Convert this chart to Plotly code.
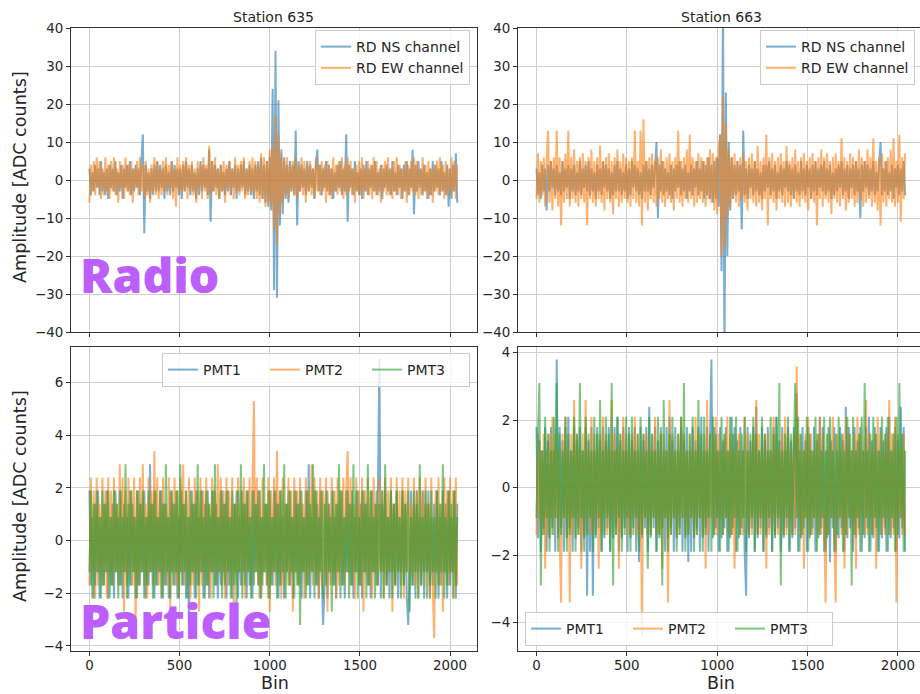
import plotly.graph_objects as go

# Trace samples every 8th bin of the 2048-bin traces
BINS = list(range(0, 2048, 8))

# ---- Radio traces [ADC counts] ----
RD635_NS = [
    3, -4, 2, -3, 4, -2, 3, -4, 5, -3, 2, -4, 3, -5, 4, -2,
    3, -3, 5, -4, 2, -3, 4, -5, 3, -2, 4, -3, 5, -4, 3, -3,
    4, -2, 3, -4, 5, 12, -14, 4, -3, 2, -5, 3, -4, 4, -3, 5,
    -3, 4, -2, 3, -5, 4, -3, 2, -4, 5, -3, 4, -2, 3, -4, 3,
    -5, 4, -3, 5, -2, 3, -4, 4, -3, 2, -5, 3, -4, 5, -3, 4,
    -2, 3, -4, 8, -11, 5, -3, 4, -2, 3, -5, 4, -3, 2, -4, 3,
    -3, 5, -4, 3, -2, 4, -5, 3, -3, 4, -2, 5, -4, 3, -3, 4,
    -4, 3, -5, 4, -3, 5, -4, 6, -5, 4, -6, 5, -7, 6, -8, 24,
    -29, 34, -31, 21, -12, 8, -9, 6, -5, 4, -6, 5, -3, 4, -4, 13,
    -12, 5, -3, 4, -2, 3, -4, 5, -3, 4, -2, 3, -5, 4, 8, -3,
    4, -4, 3, -2, 5, -3, 4, -4, 3, -5, 2, -3, 4, -2, 5, -4,
    3, -3, 12, -11, 4, -2, 3, -4, 5, -3, 2, -4, 3, -5, 4, -3,
    5, -4, 3, -2, 4, -3, 5, -4, 2, -3, 4, -5, 3, -2, 4, -3,
    3, -4, 5, -3, 2, -4, 4, -2, 3, -5, 4, -3, 5, -4, 3, -2,
    8, -9, 4, -3, 5, -2, 3, -4, 4, -3, 2, -5, 3, -4, 5, -3,
    4, -2, 3, -4, 5, -3, 2, -4, 4, -7, 3, -5, 4, -3, 7, -6,
]
RD635_EW = [
    -6, 4, -3, 5, -4, 6, -2, 5, -5, 3, -4, 6, -3, 4, -5, 5,
    -3, 6, -4, 3, -6, 5, -2, 4, -5, 6, -3, 4, -4, 5, -6, 3,
    -2, 5, -4, 6, -3, 4, -5, 5, -4, 3, -6, 4, -3, 6, -4, 5,
    -5, 3, -4, 5, -3, 6, -4, 4, -2, 5, -5, 3, -7, 6, -3, 4,
    -4, 5, -3, 6, -5, 4, -3, 5, -4, 3, -6, 5, -2, 4, -5, 6,
    -3, 4, -5, 9, -4, 5, -3, 6, -4, 3, -5, 4, -3, 5, -6, 4,
    -2, 5, -4, 3, -5, 6, -3, 4, -4, 5, -3, 6, -5, 3, -4, 5,
    -3, 6, -4, 5, -5, 4, -6, 7, -5, 6, -7, 5, -6, 8, -7, 9,
    -13, 17, -17, 12, -9, 7, -6, 5, -4, 6, -5, 4, -3, 5, -4, 6,
    -5, 4, -3, 6, -4, 5, -6, 4, -3, 5, -4, 3, -5, 6, -3, 4,
    -4, 5, -3, 4, -6, 5, -4, 3, -5, 6, -3, 4, -4, 5, -3, 6,
    -5, 4, -4, 6, -3, 5, -4, 3, -6, 4, -3, 5, -4, 6, -5, 3,
    -3, 5, -4, 4, -5, 6, -3, 5, -4, 3, -6, 4, -3, 5, -4, 6,
    -4, 3, -5, 5, -3, 6, -4, 4, -5, 3, -3, 5, -6, 4, -4, 5,
    -3, 6, -4, 5, -5, 3, -4, 6, -3, 4, -5, 5, -4, 3, -6, 4,
    -3, 5, -4, 6, -3, 4, -5, 5, -4, 3, -4, 6, -3, 5, -5, 4,
]
RD663_NS = [
    3, -4, 2, -5, 4, -3, 3, -8, 4, -3, 5, -2, 3, -4, 4, -3,
    2, -4, 5, -3, 3, -2, 4, -5, 3, -3, 4, -4, 2, -3, 5, -4,
    3, -2, 4, -3, 5, -4, 3, -3, 2, -5, 4, -3, 3, -4, 5, -2,
    4, -3, 3, -5, 2, -4, 4, -3, 5, -3, 3, -4, 2, -3, 4, -5,
    3, -4, 5, -2, 4, -3, 3, -4, 2, -5, 4, -3, 5, -3, 3, -4,
    4, -2, 3, 10, -10, 4, -3, 5, -4, 3, -3, 2, -4, 4, -5, 3,
    -3, 4, -2, 5, -4, 3, -3, 4, -5, 2, -3, 4, -4, 3, -2, 5,
    -4, 3, -3, 5, -5, 4, -4, 6, -5, 4, -6, 5, -5, 6, -7, 12,
    -24, 48, -47, 23, -20, 10, -8, 6, -5, 4, -4, 5, -3, 4, -13, 13,
    -4, 3, -5, 4, -2, 3, -4, 5, -3, 3, -4, 2, -5, 4, -3, 4,
    -2, 5, -4, 3, -3, 4, -5, 2, -3, 4, -4, 3, -2, 5, -3, 4,
    -4, 3, -5, 4, -3, 2, -4, 5, -3, 3, -4, 4, -2, 3, -5, 4,
    -3, 5, -4, 3, -2, 4, -3, 5, -4, 3, -3, 4, -5, 2, -4, 3,
    -3, 4, -2, 5, -4, 3, -3, 4, -5, 3, -2, 4, -4, 5, -3, 3,
    -10, 4, -3, 5, -2, 4, -4, 3, -3, 5, -4, 2, -3, 4, 10, -4,
    3, -3, 5, -4, 2, -3, 4, -5, 3, -2, 4, -4, 3, -3, 5, -4,
]
RD663_EW = [
    -5, 7, -6, 5, -4, 6, -7, 5, 13, -6, 5, -8, 6, -5, 13, -7,
    6, -12, 5, -6, 7, -5, 13, -7, 6, -5, 8, -6, 5, -7, 6, -5,
    7, -6, 5, -12, 6, -5, 8, -6, 5, -7, 6, -5, 9, -6, 5, -8,
    6, -5, 7, -6, 5, -9, 6, -5, 8, -7, 5, -6, 7, -5, 6, -6,
    5, -7, 6, -5, 13, -6, 5, -7, 13, -12, 16, -6, 5, -8, 6, -5,
    7, -6, 5, -7, 6, -5, 8, -6, 5, -7, 6, -5, 7, -6, 5, -8,
    6, -5, 13, -6, 5, -7, 6, -5, 8, -6, 12, -5, 6, -7, 5, -6,
    7, -5, 6, -6, 5, -7, 6, -5, 8, -6, 7, -8, 6, -9, 8, 12,
    -20, 22, -18, 15, -10, 8, -7, 6, -5, 7, -6, 5, -7, 6, -5, 7,
    -6, 5, -8, 6, -5, 7, -6, 5, -7, 9, -6, 5, -8, 6, -5, 12,
    -12, 6, -5, 7, -6, 5, -8, 6, -5, 7, -6, 5, -7, 9, -6, 5,
    -7, 6, -5, 8, -6, 5, -7, 6, -5, 7, -6, 5, -8, 6, -5, 7,
    -6, 5, -12, 6, -5, 8, -7, 6, -5, 7, -6, 5, -9, 6, -5, 7,
    -6, 5, -7, 11, -5, 6, -8, 5, -6, 7, -5, 6, -7, 5, -6, 8,
    -5, 6, -7, 5, -6, 8, -5, 6, -7, 11, -6, 5, -8, 6, -12, 7,
    -6, 5, -7, 6, -5, 8, -6, 11, -7, 5, -6, 12, -11, 6, -5, 7,
]

# ---- Particle (PMT) traces ----
PMT635_1 = [
    1.9, -1.7, 0.9, -2.2, 1.4, -1.2, 1.9, -2.2, 0.9, -1.7, 1.4, -1.2, 1.9, -2.2, 0.9, -1.7,
    1.4, -2.2, 1.9, -1.2, 0.9, -1.7, 1.9, -2.2, 1.4, -1.2, 0.9, -2.2, 1.9, -1.7, 1.4, -1.2,
    0.9, -2.2, 1.9, -1.7, 1.4, -1.2, 1.9, -2.2, 0.9, -1.7, 2.9, -1.2, 1.4, -2.2, 1.9, -1.7,
    0.9, -1.2, 1.9, -2.2, 1.4, -1.7, 0.9, -2.2, 1.9, -1.2, 1.4, -1.7, 1.9, -2.2, 0.9, -1.2,
    1.9, -1.7, 1.4, -2.2, 0.9, -3.2, 1.9, -1.2, 1.4, -2.2, 1.9, -1.7, 0.9, -1.2, 1.9, -2.2,
    1.4, -1.7, 1.9, -2.2, 0.9, -1.2, 1.9, -1.7, 1.4, -2.2, 0.9, -1.7, 1.9, -1.2, 1.4, -2.2,
    1.9, -1.7, 0.9, -2.2, 1.4, -1.2, 1.9, -2.2, 0.9, -1.7, 1.9, -1.2, 1.4, -2.2, 1.9, -1.7,
    0.9, -2.2, 1.9, -1.2, 1.4, -1.7, 1.9, -2.2, 0.9, -1.2, 1.4, -1.7, 1.9, -2.2, 0.9, -1.7,
    1.9, -1.2, 1.4, -2.2, 1.9, -1.7, 0.9, -2.2, 1.4, -1.2, 1.9, -1.7, 0.9, -2.2, 1.9, -1.2,
    1.4, -1.7, 1.9, -2.2, 0.9, -1.2, 1.9, -1.7, 2.9, -2.2, 0.9, -1.2, 1.9, -1.7, 1.4, -2.2,
    1.9, -1.2, -3.2, -1.7, 1.9, -2.2, 1.4, -1.2, 1.9, -1.7, 0.9, -2.2, 1.4, -1.2, 1.9, -1.7,
    0.9, -2.2, 1.9, -1.2, 1.4, -1.7, 1.9, -2.2, 0.9, -1.2, 1.9, -1.7, 1.4, -2.2, 1.9, -1.2,
    1.4, -1.7, 0.9, -2.2, 1.9, -1.2, 1.4, -1.7, 1.9, 6.9, -2.2, 1.4, -1.2, 1.9, -1.7, 0.9,
    -2.2, 1.9, -1.2, 1.4, -1.7, 1.9, -2.2, 0.9, -1.2, 1.9, -1.7, 1.4, -2.2, -3.2, -1.2, 1.9,
    -1.7, 1.4, -2.2, 1.9, -1.2, 0.9, -1.7, 1.9, -2.2, 1.4, -1.2, 1.9, -2.2, 0.9, -1.7, 1.4,
    -1.2, 1.9, -2.2, 0.9, -1.7, 1.9, -1.2, 1.4, -2.2, 1.9, -1.7, 0.9, -1.2, 1.9, -2.2, 1.4,
]
PMT635_2 = [
    -1.7, 2.4, -1.2, 1.9, -2.2, 2.4, -1.7, 1.4, -1.2, 2.4, -1.7, 1.9, -2.2, 2.4, -1.2, 1.9,
    -1.7, 2.4, -1.2, 1.4, -1.7, 2.9, -1.2, 2.4, -2.7, 1.9, -1.7, 2.4, -1.2, 1.9, -1.7, 2.4,
    -3.2, 1.9, -1.7, 2.4, -1.2, 2.9, -1.7, 1.4, -2.2, 2.4, -1.2, 1.9, -1.7, 3.4, -1.2, 2.4,
    -1.7, 1.9, -2.2, 2.4, -1.2, 1.4, -1.7, 2.4, -2.7, 1.9, -1.2, 2.4, -1.7, 1.9, -2.2, 2.4,
    -1.2, 2.9, -1.7, 1.9, -1.2, 2.4, -2.2, 1.4, -1.7, 2.4, -1.2, 1.9, -2.7, 2.4, -1.7, 1.9,
    -1.2, 2.4, -1.7, 1.4, -2.2, 2.4, -1.2, 1.9, -1.7, 2.9, -1.2, 2.4, -1.7, 1.9, -2.2, 2.4,
    -1.7, 1.9, -1.2, 2.4, -2.7, 1.4, -1.7, 2.4, -1.2, 1.9, -1.7, 2.4, -2.2, 1.9, -1.2, 2.4,
    -1.7, 1.9, 5.3, -1.2, 2.4, -1.7, 1.9, -2.2, 2.4, -1.2, 1.4, -1.7, 2.4, -2.7, 1.9, -1.2,
    2.4, -1.7, 3.4, -1.2, 1.9, -2.2, 2.4, -1.7, 1.4, -1.2, 2.4, -1.7, 1.9, -2.7, 2.4, -1.2,
    1.9, -1.7, 2.4, -1.2, 1.4, -2.2, 2.4, -1.7, 1.9, -1.2, 2.9, -1.7, 2.4, -1.2, 1.9, -2.2,
    2.4, -1.7, 1.9, -1.2, 2.4, -2.7, 1.4, -1.7, 2.4, -1.2, 1.9, -2.2, 2.4, -1.7, 1.9, -1.2,
    2.4, -1.7, 1.9, 3.4, -1.2, 2.4, -1.7, 1.4, -2.2, 2.4, -1.2, 1.9, -1.7, 2.4, -2.7, 1.9,
    -1.2, 2.4, -1.7, 1.9, -2.2, 2.4, -1.2, 1.4, -1.7, 2.4, -1.2, 1.9, -2.2, 2.4, -1.7, 1.9,
    -1.2, 2.4, -2.7, 1.4, -1.7, 2.4, -1.2, 1.9, -1.7, 2.4, -2.2, 1.9, -1.2, 2.4, -1.7, 1.4,
    -1.2, 2.4, -1.7, 1.9, -2.2, 2.4, -1.2, 1.9, -1.7, 2.4, -1.2, 1.4, -2.2, 2.4, -1.7, -3.7,
    1.9, -1.2, 2.4, -1.7, 1.4, -2.7, 2.4, -1.2, 1.9, -1.7, 2.4, -1.2, 1.9, -2.2, 2.4, -1.7,
]
PMT635_3 = [
    -1.2, 1.9, -2.2, 1.4, -1.7, 1.9, -1.2, 0.9, -2.2, 1.9, -1.7, 1.4, -1.2, 1.9, -2.2, 0.9,
    -1.7, 1.9, -1.2, 1.4, -2.2, 1.9, -1.7, 0.9, -1.2, 2.9, -2.2, 1.4, -1.7, 1.9, -1.2, 0.9,
    -2.2, 1.9, -1.7, 1.4, -1.2, 1.9, -2.2, 0.9, -1.7, 1.9, -1.2, 1.4, -2.2, 1.9, -1.7, 0.9,
    -1.2, 1.9, -2.2, 1.4, -1.7, 2.9, -1.2, 0.9, -2.2, 1.9, -1.7, 1.4, -1.2, 1.9, -2.2, 2.9,
    -1.7, 1.4, -1.2, 1.9, -2.2, 0.9, -1.7, 1.9, -1.2, 1.4, -2.2, 2.9, -1.7, 1.9, -1.2, 0.9,
    -2.2, 1.9, -1.7, 1.4, -1.2, 1.9, -2.2, 2.9, -1.7, 0.9, -1.2, 1.9, -2.2, 1.4, -1.7, 1.9,
    -1.2, 0.9, -2.2, 1.9, -1.7, 1.4, -2.7, 1.9, -1.2, 2.9, -2.2, 1.4, -1.7, 1.9, -1.2, 0.9,
    -2.2, 1.9, -1.7, 1.4, -1.2, 1.9, -2.2, 0.9, -1.7, 2.9, -1.2, 1.4, -2.2, 1.9, -1.7, 0.9,
    -1.2, 1.9, -2.2, 1.4, -1.7, 1.9, -1.2, 2.9, -2.2, 1.4, -1.7, 1.9, -1.2, 0.9, -2.2, 1.9,
    -1.7, 1.4, -3.2, 1.9, -1.2, 0.9, -2.2, 1.9, -1.7, 1.4, -1.2, 2.9, -2.2, 1.9, -1.7, 0.9,
    -1.2, 1.9, -2.2, 1.4, -1.7, 1.9, -1.2, 0.9, -2.7, 1.9, -1.7, 1.4, -1.2, 2.9, -2.2, 1.9,
    -1.7, 0.9, -1.2, 1.9, -2.2, 1.4, -1.7, 2.9, -1.2, 1.9, -2.2, 0.9, -1.7, 1.9, -1.2, 1.4,
    -2.2, 2.9, -1.7, 1.9, -1.2, 0.9, -2.2, 1.9, -1.7, 1.4, -1.2, 1.9, -2.2, 2.9, -1.7, 0.9,
    -1.2, 1.9, -2.2, 1.4, -1.7, 1.9, -1.2, 0.9, -2.2, 1.9, -1.7, 1.4, -1.2, 1.9, -2.7, 0.9,
    -1.7, 1.9, -1.2, 1.4, -2.2, 2.9, -1.7, 0.9, -1.2, 1.9, -2.2, 1.4, -1.7, 1.9, -1.2, 0.9,
    -2.2, 1.9, -1.7, 1.4, -1.2, 2.9, -2.2, 0.9, -1.7, 1.9, -1.2, 1.4, -2.2, 1.9, -1.7, 0.9,
]
PMT663_1 = [
    1.8, -1.5, 1.4, -1.9, 1.1, -1.2, 1.8, -1.9, 1.4, -1.5, 1.8, -1.2, 1.1, -1.9, 3.8, -1.5,
    1.8, -1.2, 1.4, -1.9, 1.8, -1.5, 2.1, -1.2, 1.1, -1.9, 1.8, -1.5, 1.4, -1.2, 1.8, -1.9,
    1.1, -1.5, 1.8, -3.2, 1.4, -1.9, 1.8, -3.2, 1.1, -1.5, 1.8, -1.2, 1.4, -1.9, 1.8, -1.5,
    1.4, -1.2, 1.8, -1.9, 1.1, -1.5, 1.8, -1.2, 2.1, -1.9, 1.4, -1.5, 1.8, -1.2, 1.1, -1.9,
    1.8, -1.5, 1.4, -1.2, 1.8, -1.9, 1.1, -2.2, 1.8, -1.5, 1.4, -1.2, 1.8, -1.9, 2.4, -1.5,
    1.1, -1.2, 1.8, -1.9, 1.4, -1.5, 1.8, -1.2, 1.1, -1.9, 1.8, -1.5, 2.1, -1.2, 1.4, -1.9,
    1.8, -1.5, 1.1, -1.2, 1.8, -1.9, 1.4, -1.5, 1.8, -2.2, 1.1, -1.9, 1.8, -1.5, 1.4, -1.2,
    1.8, -1.9, 2.1, -1.5, 1.1, -1.2, 1.8, -1.9, 1.4, 3.8, -1.5, 1.8, -1.2, 1.1, -1.9, 1.8,
    -1.5, 1.4, -1.2, 1.8, -1.9, 1.1, -1.5, 2.1, -1.2, 1.8, -1.9, 1.4, -1.5, 1.8, -1.2, 1.1,
    -1.9, -3.2, 1.8, -1.5, 1.4, -1.2, 1.8, -1.9, 2.4, -1.5, 1.1, -1.2, 1.8, -1.9, 1.4, -1.5,
    1.8, -1.2, 1.1, -1.9, 1.8, -1.5, 2.1, -1.2, 1.4, -1.9, 1.8, -1.5, 1.1, -1.2, 1.8, -1.9,
    1.4, -1.5, 1.8, -1.2, 2.8, -1.9, 1.1, -1.5, 1.8, -1.2, 1.4, -1.9, 1.8, -1.5, 1.1, -1.2,
    1.8, -1.9, 1.4, -1.5, 2.1, -1.2, 1.8, -1.9, 1.1, -1.5, 1.8, -2.2, 1.4, -1.2, 1.8, -1.9,
    1.1, -1.5, 1.8, -1.2, 1.4, -1.9, 2.4, -1.5, 1.8, -1.2, 1.1, -1.9, 1.8, -1.5, 1.4, -1.2,
    1.8, -1.9, 1.1, -1.5, 1.8, -1.2, 2.1, -1.9, 1.4, -1.5, 1.8, -1.2, 1.1, -1.9, 1.8, -1.5,
    1.4, -1.2, 1.8, -1.9, 2.1, -1.5, 1.1, -1.2, 1.8, -1.9, 1.4, -1.5, 2.4, -1.2, 1.8, -1.9,
]
PMT663_2 = [
    -1.4, 1.6, -0.9, 1.1, -1.4, 1.6, -2.4, 1.1, -1.4, 1.6, -0.9, 2.1, -1.4, 1.6, -0.9, 1.1,
    -1.4, -3.4, 1.6, -0.9, 2.1, -1.4, 1.1, -3.4, 1.6, -1.4, 2.6, -0.9, 1.6, -1.4, 1.1, -2.4,
    1.6, -1.4, 2.6, -0.9, 1.1, -1.4, 2.1, -1.4, 1.6, -0.9, 1.1, -2.4, 1.6, -1.4, 2.1, -0.9,
    1.6, -1.4, 1.1, -1.4, 2.6, -0.9, 1.6, -1.4, 1.1, -2.4, 1.6, -1.4, 2.1, -0.9, 1.6, -1.4,
    1.1, -1.4, 1.6, -0.9, 2.1, -1.4, 1.6, -1.4, 1.1, -4.4, 1.6, -0.9, 1.6, -1.4, 1.1, -1.4,
    1.6, -0.9, 2.1, -1.4, 1.1, -1.4, 1.6, -2.4, 1.6, -0.9, 1.1, -3.4, 2.6, -1.4, 1.6, -0.9,
    1.1, -1.4, 1.6, -1.4, 2.1, -0.9, 1.6, -1.4, 1.1, -1.4, 1.6, -0.9, 1.1, -1.4, 2.1, -1.4,
    1.6, -0.9, 1.1, -1.4, 1.6, -2.4, 2.6, -1.4, 1.1, -0.9, 1.6, -1.4, 2.1, -1.4, 1.6, -0.9,
    1.1, -1.4, 1.6, -0.9, 2.1, -1.4, 1.6, -1.4, 1.1, -2.4, 1.6, -0.9, 1.6, -1.4, 1.1, -1.4,
    2.1, -0.9, 1.6, -1.4, 1.1, -1.4, 1.6, -0.9, 2.6, -1.4, 1.6, -1.4, 1.1, -0.9, 1.6, -2.4,
    1.6, -1.4, 1.1, -0.9, 2.1, -1.4, 1.6, -1.4, 1.1, -0.9, 1.6, -1.4, 2.1, -1.4, 1.6, -0.9,
    1.1, -1.4, 1.6, -1.4, 3.6, -0.9, 1.6, -1.4, 1.1, -2.4, 1.6, -0.9, 2.1, -1.4, 1.6, -1.4,
    1.1, -0.9, 1.6, -1.4, 2.1, -1.4, 1.6, -0.9, -3.4, 1.1, -1.4, 1.6, -0.9, 2.1, -1.4, -3.4,
    1.6, -0.9, 1.1, -1.4, 1.6, -2.4, 2.1, -1.4, 1.6, -0.9, 1.1, -1.4, 1.6, -2.4, 2.1, -1.4,
    1.6, -0.9, 1.1, -1.4, 2.6, -1.4, 1.6, -0.9, 1.1, -1.4, 1.6, -2.4, 2.1, -0.9, 1.6, -1.4,
    1.1, -1.4, 1.6, -0.9, 2.6, -1.4, 1.6, -1.4, 2.1, -3.4, 1.6, -0.9, 1.1, -1.4, 1.6, -1.4,
]
PMT663_3 = [
    -0.9, 1.6, 3.1, -2.9, 1.1, -1.4, 2.1, -0.9, 1.6, -1.9, 1.1, -1.4, 2.1, -0.9, 3.1, -1.9,
    1.6, -1.4, 1.1, -0.9, 2.1, -1.9, 1.6, -1.4, 1.1, -0.9, 2.1, -1.9, 1.6, -1.4, 3.1, -0.9,
    1.1, -1.9, 2.1, -1.4, 1.6, -0.9, 1.1, -1.9, 2.1, -1.4, 1.6, -0.9, 2.6, -1.9, 1.1, -1.4,
    2.1, -0.9, 1.6, -1.9, 3.1, -2.9, 1.1, -1.4, 2.1, -0.9, 1.6, -1.9, 1.1, -1.4, 2.1, -0.9,
    1.6, -1.9, 2.1, -1.4, 1.1, -0.9, 1.6, -1.9, 2.1, -1.4, 1.6, -0.9, 1.1, -2.4, 2.1, -1.4,
    1.6, -0.9, 1.1, -1.9, 2.1, -1.4, 1.6, -2.9, 2.6, -0.9, 1.1, -1.9, 1.6, -1.4, 2.1, -0.9,
    1.1, -1.9, 1.6, -1.4, 2.1, -0.9, 3.1, -1.9, 1.1, -1.4, 1.6, -0.9, 2.1, -1.9, 1.1, -1.4,
    2.6, -0.9, 1.6, -1.9, 2.1, -1.4, 1.1, -0.9, 1.6, -1.9, 2.1, -1.4, 1.6, -0.9, 1.1, -1.9,
    2.1, -1.4, 1.6, -0.9, 1.1, -1.9, 2.1, -1.4, 1.6, -0.9, 2.1, -1.9, 1.1, -1.4, 1.6, -0.9,
    2.1, -1.9, 1.1, -1.4, 1.6, -0.9, 2.1, -1.9, 1.6, -1.4, 1.1, -0.9, 2.1, -1.9, 1.6, -1.4,
    1.1, -0.9, 2.1, -1.9, 1.6, -1.4, 2.1, -0.9, 3.1, -2.9, 1.1, -1.4, 1.6, -0.9, 2.1, -1.9,
    1.6, -1.4, 1.1, 3.1, -0.9, 2.1, -1.9, 1.6, -1.4, 1.1, -0.9, 2.1, -1.9, 1.6, -1.4, 1.1,
    -0.9, 2.1, -1.9, 1.6, -1.4, 1.1, -0.9, 2.1, -1.9, 1.6, -1.4, 2.1, -0.9, 1.1, -1.9, 1.6,
    -1.4, 2.1, -0.9, 1.6, -1.9, 1.1, -1.4, 2.1, -0.9, 1.6, -2.9, 2.1, -1.4, 1.1, -0.9, 1.6,
    -1.9, 2.1, -1.4, 3.1, -0.9, 1.1, -1.9, 1.6, -1.4, 2.1, -0.9, 1.6, -1.9, 1.1, -1.4, 2.1,
    -0.9, 1.6, -1.9, 2.1, -1.4, 1.1, -0.9, 1.6, -1.9, 2.1, -1.4, 3.1, -0.9, 1.6, -1.9, 1.1,
]

STATIONS = ["Station 635", "Station 663"]
X_TICKS = [0, 500, 1000, 1500, 2000]

BLUE = "rgba(31,119,180,0.6)"
ORANGE = "rgba(255,127,14,0.6)"
GREEN = "rgba(44,160,44,0.6)"
FONT = "DejaVu Sans"
INK = "#262626"
PURPLE = "#BD5EFF"

W, H = 920, 694


def px_x(p):
    return p / W


def px_y(p):
    return 1 - p / H


fig = go.Figure()


def add_trace(y, name, color, axis, legend):
    fig.add_trace(go.Scatter(
        x=BINS, y=y, name=name, mode="lines",
        line=dict(color=color, width=2, simplify=False),
        xaxis="x" + axis, yaxis="y" + axis, legend=legend,
        hoverinfo="skip",
    ))


add_trace(RD635_NS, "RD NS channel", BLUE, "", "legend")
add_trace(RD635_EW, "RD EW channel", ORANGE, "", "legend")
add_trace(RD663_NS, "RD NS channel", BLUE, "2", "legend2")
add_trace(RD663_EW, "RD EW channel", ORANGE, "2", "legend2")
add_trace(PMT635_1, "PMT1", BLUE, "3", "legend3")
add_trace(PMT635_2, "PMT2", ORANGE, "3", "legend3")
add_trace(PMT635_3, "PMT3", GREEN, "3", "legend3")
add_trace(PMT663_1, "PMT1", BLUE, "4", "legend4")
add_trace(PMT663_2, "PMT2", ORANGE, "4", "legend4")
add_trace(PMT663_3, "PMT3", GREEN, "4", "legend4")

LEFT = [px_x(71), px_x(477)]
RIGHT = [px_x(518), 1.0]
TOP = [px_y(332), px_y(28)]
BOTTOM = [px_y(651), px_y(347)]

tick_font = dict(family=FONT, size=13.4, color=INK)
common_x = dict(
    tickvals=X_TICKS, showgrid=True, gridcolor="#cfcfcf", gridwidth=1,
    zeroline=False, showline=True, linecolor="#333333", linewidth=1,
    ticks="outside", ticklen=4, tickcolor="#333333", tickfont=tick_font,
    ticklabelstandoff=-2, automargin=False,
)
common_y = dict(
    showgrid=True, gridcolor="#cfcfcf", gridwidth=1, zeroline=False,
    showline=True, linecolor="#333333", linewidth=1,
    ticks="outside", ticklen=4, tickcolor="#333333", tickfont=tick_font,
    automargin=False,
)

X_LEFT_RANGE = [-102.35, 2149.35]
X_RIGHT_RANGE = [-102.35, 2122.3]

fig.update_layout(
    template="none",
    width=W, height=H, autosize=False,
    margin=dict(l=0, r=0, t=0, b=0, pad=0),
    paper_bgcolor="white", plot_bgcolor="white",
    font=dict(family=FONT, color=INK),
    xaxis=dict(domain=LEFT, anchor="y", range=X_LEFT_RANGE, mirror=True,
               showticklabels=False, **common_x),
    yaxis=dict(domain=TOP, anchor="x", range=[-40, 40], dtick=10, mirror=True, **common_y),
    xaxis2=dict(domain=RIGHT, anchor="y2", range=X_RIGHT_RANGE, mirror=True,
                showticklabels=False, **common_x),
    yaxis2=dict(domain=TOP, anchor="x2", range=[-40, 40], dtick=10, **common_y),
    xaxis3=dict(domain=LEFT, anchor="y3", range=X_LEFT_RANGE, mirror=True, **common_x),
    yaxis3=dict(domain=BOTTOM, anchor="x3", range=[-4.19, 7.35], dtick=2, mirror=True, **common_y),
    xaxis4=dict(domain=RIGHT, anchor="y4", range=X_RIGHT_RANGE, mirror=True, **common_x),
    yaxis4=dict(domain=BOTTOM, anchor="x4", range=[-4.84, 4.17], dtick=2, **common_y),
)

legend_style = dict(
    bgcolor="rgba(255,255,255,0.8)", bordercolor="#cccccc", borderwidth=1,
    font=dict(family=FONT, size=14, color=INK),
)
fig.update_layout(
    legend=dict(x=px_x(470), y=px_y(30), xanchor="right", yanchor="top", **legend_style),
    legend2=dict(x=px_x(915), y=px_y(30), xanchor="right", yanchor="top", **legend_style),
    legend3=dict(x=px_x(470), y=px_y(353), xanchor="right", yanchor="top",
                 orientation="h", entrywidth=57, **legend_style),
    legend4=dict(x=px_x(525), y=px_y(646), xanchor="left", yanchor="bottom",
                 orientation="h", entrywidth=57, **legend_style),
)

annotations = []
for name, cx in zip(STATIONS, [273.5, 721]):
    annotations.append(dict(
        text=name, x=px_x(cx), y=px_y(28),
        xref="paper", yref="paper", xanchor="center", yanchor="bottom",
        showarrow=False, font=dict(family=FONT, size=14, color=INK), yshift=1,
    ))
for cx in [274.5, 720.5]:
    annotations.append(dict(
        text="Bin", x=px_x(cx), y=0, xref="paper", yref="paper",
        xanchor="center", yanchor="bottom", showarrow=False, borderpad=0,
        font=dict(family=FONT, size=17.5, color=INK),
    ))
for cy in [177, 496]:
    annotations.append(dict(
        text="Amplitude [ADC counts]", x=px_x(20), y=px_y(cy), xref="paper", yref="paper",
        xanchor="center", yanchor="middle", textangle=-90, showarrow=False,
        font=dict(family=FONT, size=17.6, color=INK),
    ))
for label, base in [("Radio", 291), ("Particle", 637)]:
    annotations.append(dict(
        text=label, x=px_x(78), y=px_y(base - 17), xref="paper", yref="paper",
        xanchor="left", yanchor="middle", showarrow=False,
        font=dict(family="Open Sans", size=48, color=PURPLE, weight=800),
    ))
fig.update_layout(annotations=annotations)

fig.write_html("out.html")
